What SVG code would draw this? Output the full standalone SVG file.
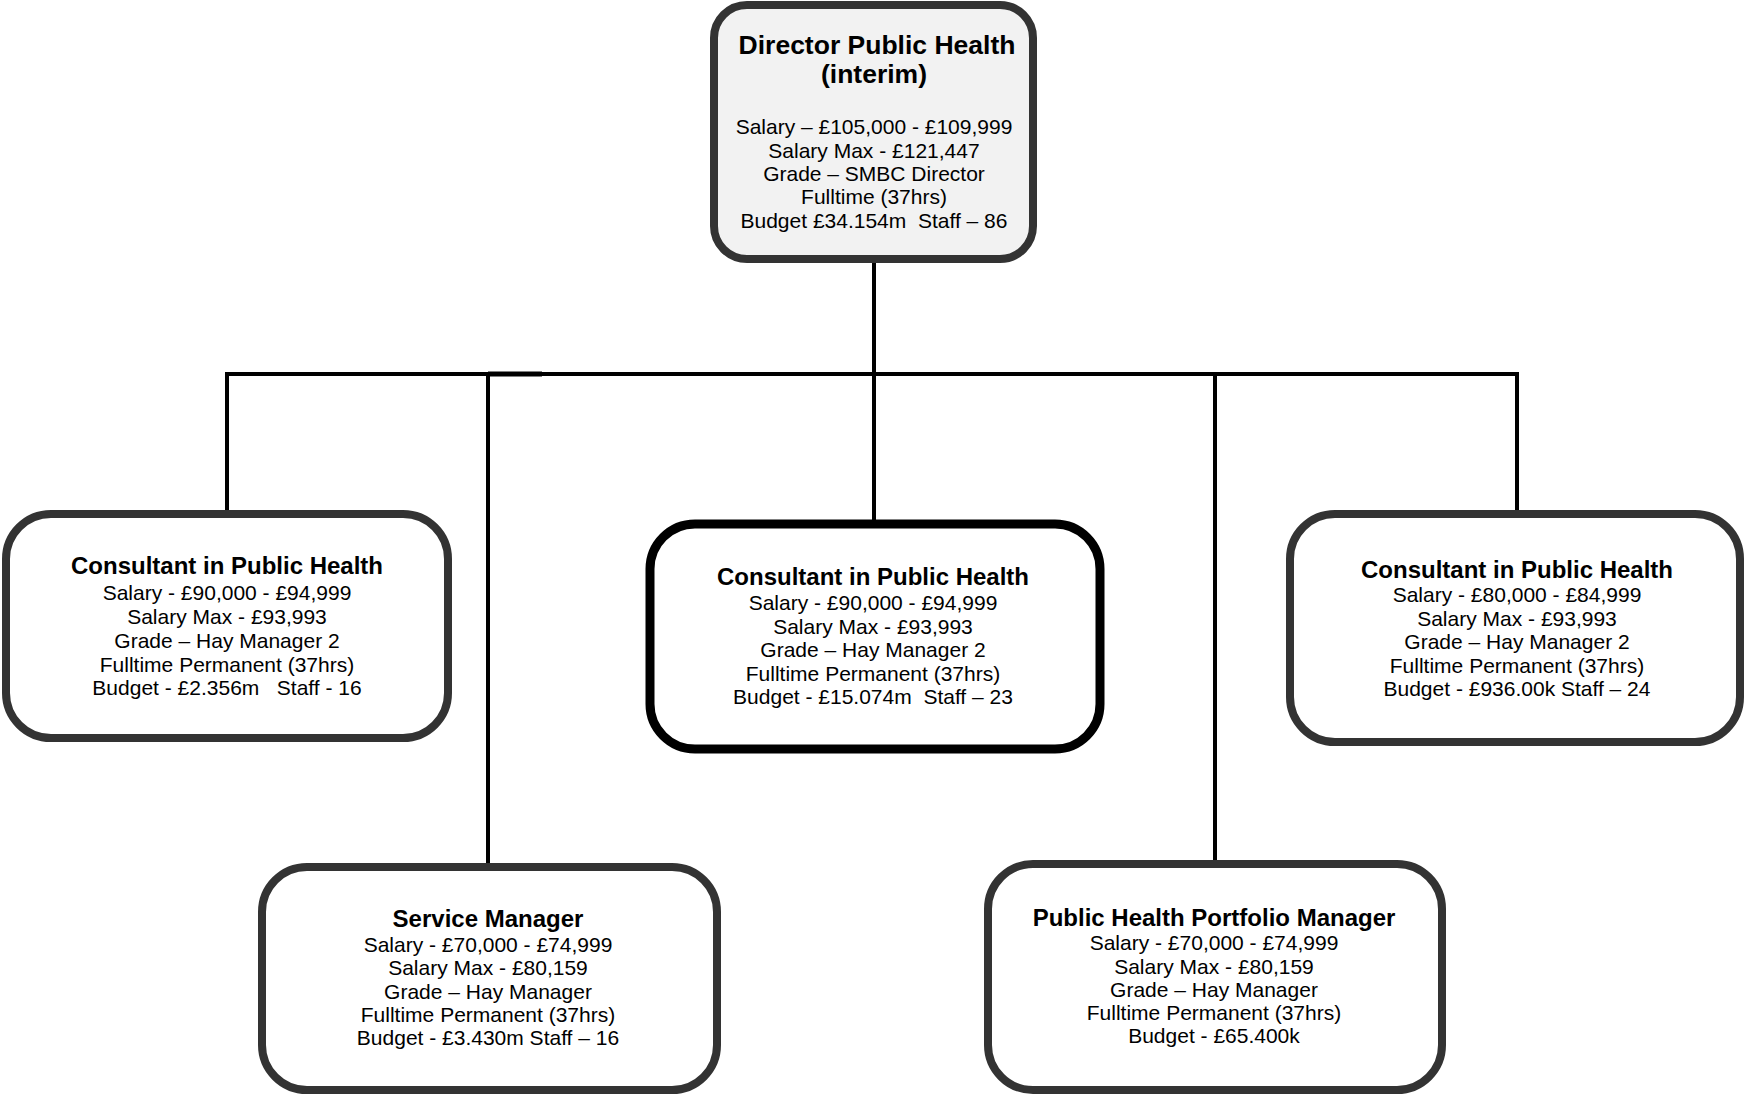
<svg xmlns="http://www.w3.org/2000/svg" width="1746" height="1097" viewBox="0 0 1746 1097">
<style>
.box{fill:#fff;stroke:#333;stroke-width:8}
.dir{fill:#f2f2f2}
.ctr{stroke:#000;stroke-width:9}
.t{font-family:"Liberation Sans",Arial,sans-serif;font-size:21px;fill:#000;text-anchor:middle}
.b{font-weight:bold;font-size:24px}
.bd{font-weight:bold;font-size:26.5px}
.ln{stroke:#000;stroke-width:4;fill:none}
</style>
<rect width="1746" height="1097" fill="#fff"/>
<g id="connectors">
<line class="ln" x1="225" y1="374" x2="1519" y2="374"/>
<line class="ln" x1="874" y1="262" x2="874" y2="524"/>
<line class="ln" x1="227" y1="374" x2="227" y2="514"/>
<line class="ln" x1="488" y1="374" x2="488" y2="867"/>
<line class="ln" x1="1215" y1="374" x2="1215" y2="864"/>
<line class="ln" x1="1517" y1="374" x2="1517" y2="514"/>
<line class="ln" x1="488" y1="374" x2="542" y2="374" style="stroke-width:5"/>
<line class="ln" x1="1175" y1="864" x2="1215" y2="864" style="stroke-width:5"/>
</g>
<g id="director">
<rect class="box dir" x="714" y="5" width="319" height="254" rx="33"/>
<text class="t bd" x="877" y="54">Director Public Health</text>
<text class="t bd" x="874" y="83">(interim)</text>
<text class="t" x="874" y="134">Salary – £105,000 - £109,999</text>
<text class="t" x="874" y="157.5">Salary Max - £121,447</text>
<text class="t" x="874" y="181">Grade – SMBC Director</text>
<text class="t" x="874" y="204">Fulltime (37hrs)</text>
<text class="t" x="874" y="227.5" xml:space="preserve">Budget £34.154m  Staff – 86</text>
</g>
<g id="consultant-left">
<rect class="box" x="6" y="514" width="442" height="224" rx="45"/>
<text class="t b" x="227" y="574">Consultant in Public Health</text>
<text class="t" x="227" y="600">Salary - £90,000 - £94,999</text>
<text class="t" x="227" y="623.5">Salary Max - £93,993</text>
<text class="t" x="227" y="647.5">Grade – Hay Manager 2</text>
<text class="t" x="227" y="671.5">Fulltime Permanent (37hrs)</text>
<text class="t" x="227" y="695" xml:space="preserve">Budget - £2.356m   Staff - 16</text>
</g>
<g id="consultant-centre">
<rect class="box ctr" x="650" y="524" width="450" height="225" rx="45"/>
<text class="t b" x="873" y="585">Consultant in Public Health</text>
<text class="t" x="873" y="610">Salary - £90,000 - £94,999</text>
<text class="t" x="873" y="633.5">Salary Max - £93,993</text>
<text class="t" x="873" y="657">Grade – Hay Manager 2</text>
<text class="t" x="873" y="680.5">Fulltime Permanent (37hrs)</text>
<text class="t" x="873" y="704" xml:space="preserve">Budget - £15.074m  Staff – 23</text>
</g>
<g id="consultant-right">
<rect class="box" x="1290" y="514" width="450" height="228" rx="45"/>
<text class="t b" x="1517" y="578">Consultant in Public Health</text>
<text class="t" x="1517" y="602">Salary - £80,000 - £84,999</text>
<text class="t" x="1517" y="625.5">Salary Max - £93,993</text>
<text class="t" x="1517" y="649">Grade – Hay Manager 2</text>
<text class="t" x="1517" y="672.5">Fulltime Permanent (37hrs)</text>
<text class="t" x="1517" y="696">Budget - £936.00k Staff – 24</text>
</g>
<g id="service-manager">
<rect class="box" x="262" y="867" width="455" height="223" rx="45"/>
<text class="t b" x="488" y="927">Service Manager</text>
<text class="t" x="488" y="952">Salary - £70,000 - £74,999</text>
<text class="t" x="488" y="975">Salary Max - £80,159</text>
<text class="t" x="488" y="998.5">Grade – Hay Manager</text>
<text class="t" x="488" y="1022">Fulltime Permanent (37hrs)</text>
<text class="t" x="488" y="1045">Budget - £3.430m Staff – 16</text>
</g>
<g id="portfolio-manager">
<rect class="box" x="988" y="864" width="454" height="226" rx="45"/>
<text class="t b" x="1214" y="926">Public Health Portfolio Manager</text>
<text class="t" x="1214" y="950">Salary - £70,000 - £74,999</text>
<text class="t" x="1214" y="973.5">Salary Max - £80,159</text>
<text class="t" x="1214" y="997">Grade – Hay Manager</text>
<text class="t" x="1214" y="1020">Fulltime Permanent (37hrs)</text>
<text class="t" x="1214" y="1043">Budget - £65.400k</text>
</g>
</svg>
